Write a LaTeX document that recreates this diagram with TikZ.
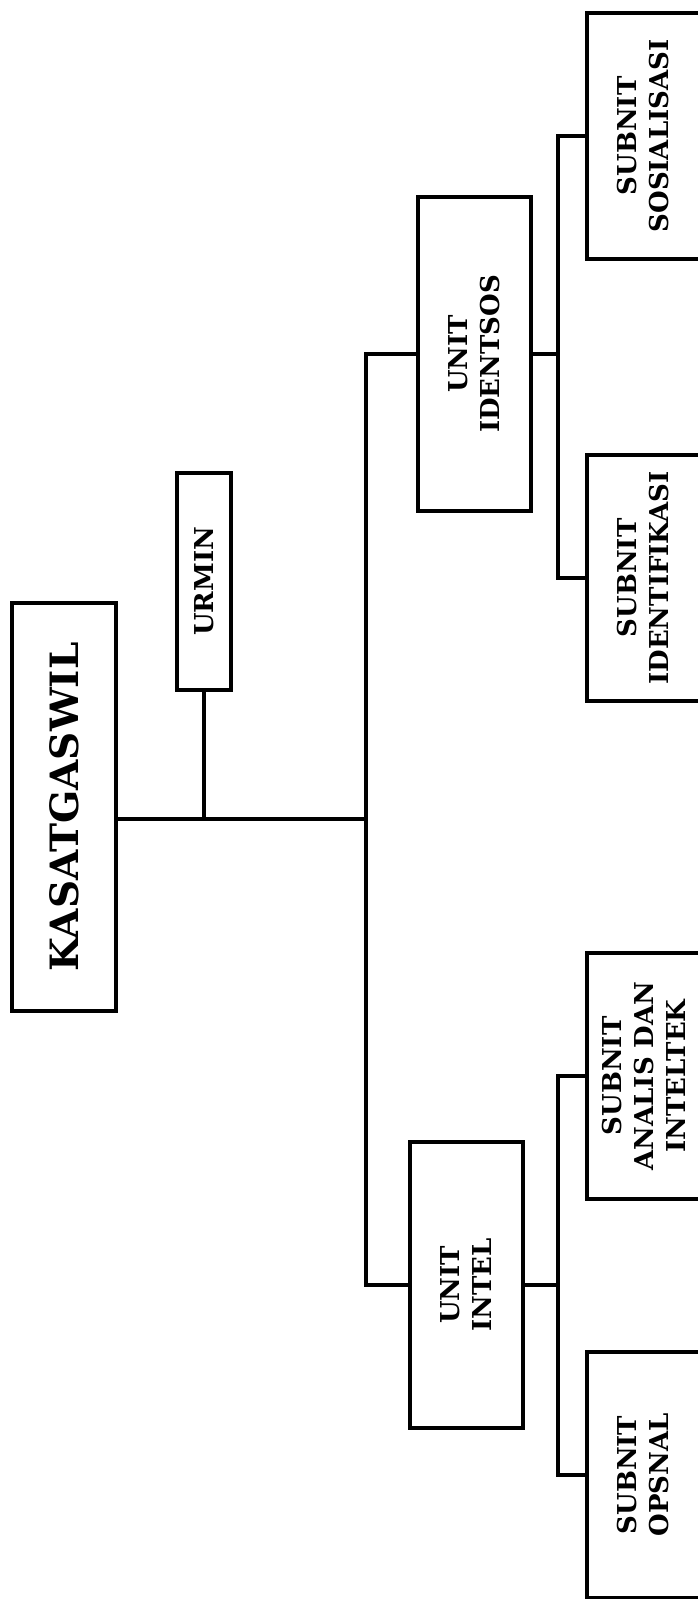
\documentclass[tikz,border=0pt]{standalone}
\usepackage{fontspec}
\setmainfont{DejaVu Serif}
\usetikzlibrary{shadows}

\begin{document}
\begin{tikzpicture}[
    x=0.5pt, y=0.5pt,
    rotate=90, transform shape,
    font=\bfseries\fontsize{13}{16}\selectfont,
    box/.style={rectangle, draw=black, line width=2.2pt, fill=white, align=center, inner sep=2pt, drop shadow={shadow xshift=-1.2pt, shadow yshift=-1.2pt, opacity=0.3}},
    root/.style={box, minimum width=204pt, minimum height=52pt, font=\bfseries\fontsize{19.5}{23}\selectfont},
    staff/.style={box, minimum width=108.5pt, minimum height=27pt},
    unit/.style={box, minimum height=56.5pt},
    subunit/.style={box, minimum width=123pt, minimum height=56.5pt},
    edge_style/.style={draw=black, line width=2pt}
]

% Page frame
\useasboundingbox (0,0) rectangle (1599,697);

% Level 0: Head and staff
\node[root] (kasat) at (792, 633) {KASATGASWIL};
\node[staff] (urmin) at (1017.5, 493) {URMIN};

% Level 1: Units
\node[unit, minimum width=157pt] (identsos) at (1245, 222.5) {UNIT\\IDENTSOS};
\node[unit, minimum width=143pt] (intel) at (314, 230.5) {UNIT\\INTEL};

% Level 2: Subunits
\node[subunit] (sosial) at (1463, 53.5) {SUBNIT\\SOSIALISASI};
\node[subunit] (identif) at (1021, 53.5) {SUBNIT\\IDENTIFIKASI};
\node[subunit] (analis) at (523, 53.5) {SUBNIT\\ANALIS DAN\\INTELTEK};
\node[subunit] (opsnal) at (124, 53.5) {SUBNIT\\OPSNAL};

% Bus lines
\coordinate (trunk) at (780, 331);
\coordinate (subbus) at (0, 139);

% Connections
\draw[edge_style] (kasat.south -| trunk) -- (trunk);
\draw[edge_style] (urmin.west) -- (urmin.west -| trunk);
\draw[edge_style] (intel.north) |- (trunk) -| (identsos.north);
\draw[edge_style] (identsos.south) -- (identsos.south |- subbus);
\draw[edge_style] (identif.north) |- (identsos.south |- subbus) -| (sosial.north);
\draw[edge_style] (intel.south) -- (intel.south |- subbus);
\draw[edge_style] (opsnal.north) |- (intel.south |- subbus) -| (analis.north);

\end{tikzpicture}
\end{document}
